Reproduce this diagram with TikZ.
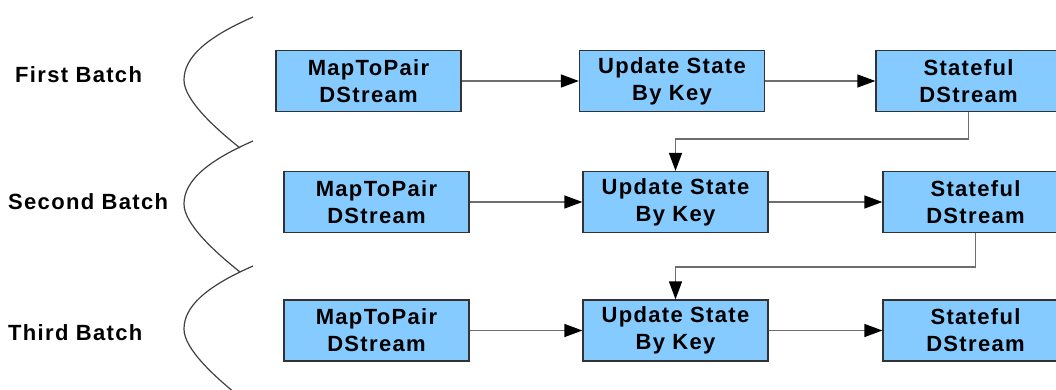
\documentclass[tikz,border=0pt]{standalone}
\usepackage{fontspec}
\newfontfamily\diagfont{Liberation Sans}[LetterSpace=6]
\usetikzlibrary{arrows.meta}
\definecolor{boxfill}{RGB}{133,203,255}
\definecolor{boxline}{RGB}{50,50,50}
\definecolor{wire}{RGB}{110,110,110}
\begin{document}
\begin{tikzpicture}[x=1pt,y=-1pt,
  stage/.style={draw=boxline,line width=1.3pt,fill=boxfill,minimum width=185pt,
    minimum height=61pt,inner sep=0pt,align=center,
    font=\diagfont\bfseries\fontsize{22}{27}\selectfont},
  batchlabel/.style={anchor=base west,inner sep=0pt,
    font=\diagfont\bfseries\fontsize{22}{27}\selectfont},
  flow/.style={draw=wire,line width=1.4pt,
    -{Triangle[length=18pt,width=13pt,fill=black,color=black]}},
  brace/.style={draw=black!75,line width=1.2pt}]
\clip (0,0) rectangle (1056,390);

% batch labels
\node[batchlabel] (l1) at (15,83) {First Batch};
\node[batchlabel] (l2) at (8,209) {Second Batch};
\node[batchlabel] (l3) at (8,340) {Third Batch};

% curved separators, one per batch
\foreach \dy in {0,124,249}{
  \draw[brace,yshift=-\dy pt] (253,17) .. controls (205,38) and (184,58) .. (184,80)
    .. controls (184,100) and (215,128) .. (240,148);
}

% first batch
\node[stage] (mp1) at (368.5,81) {MapToPair\\DStream};
\node[stage] (us1) at (672,81) {Update State\\By Key};
\node[stage] (sf1) at (968.5,81) {Stateful\\DStream};
% second batch
\node[stage] (mp2) at (376.5,202) {MapToPair\\DStream};
\node[stage] (us2) at (675.5,202) {Update State\\By Key};
\node[stage] (sf2) at (975.5,202) {Stateful\\DStream};
% third batch
\node[stage] (mp3) at (376.5,330.5) {MapToPair\\DStream};
\node[stage] (us3) at (675.5,330.5) {Update State\\By Key};
\node[stage] (sf3) at (975.5,330.5) {Stateful\\DStream};

% flow within each batch
\draw[flow] (mp1) -- (us1);
\draw[flow] (us1) -- (sf1);
\draw[flow] (mp2) -- (us2);
\draw[flow] (us2) -- (sf2);
\draw[flow] (mp3) -- (us3);
\draw[flow] (us3) -- (sf3);

% state carried into the next batch
\coordinate (j1) at (675.5,139);
\coordinate (j2) at (675.5,267);
\draw[flow] (sf1.south) |- (j1) -- (us2.north);
\draw[flow] (sf2.south) |- (j2) -- (us3.north);
\end{tikzpicture}
\end{document}
